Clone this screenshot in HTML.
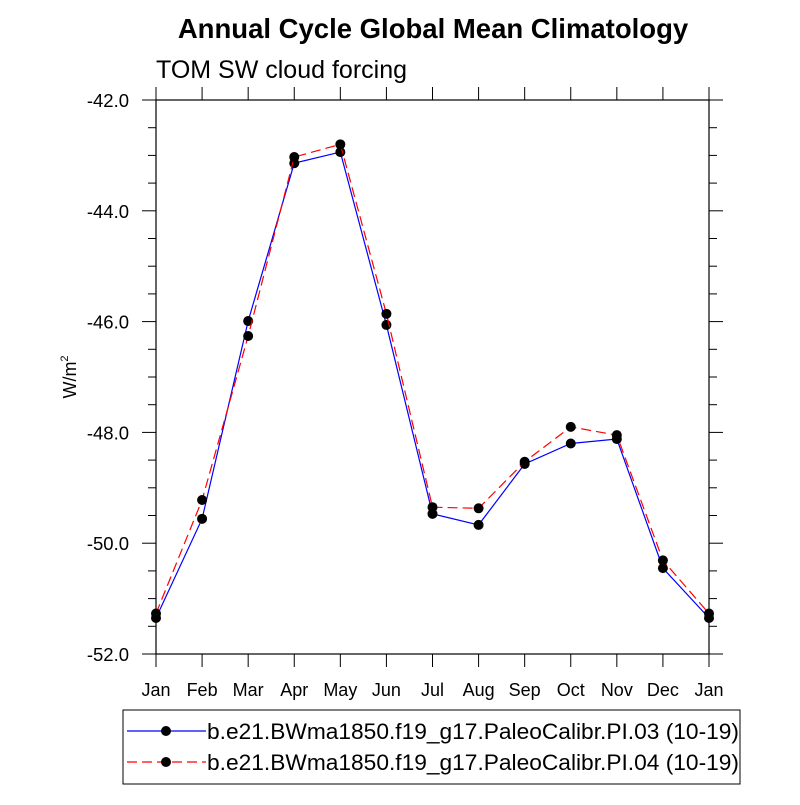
<!DOCTYPE html>
<html><head><meta charset="utf-8"><style>
html,body{margin:0;padding:0;background:#fff;}
svg text{font-family:"Liberation Sans",Arial,sans-serif;}
</style></head><body>
<svg id="chart" width="800" height="800" xmlns="http://www.w3.org/2000/svg">
<text x="433" y="38" text-anchor="middle" font-size="27.5" font-weight="bold">Annual Cycle Global Mean Climatology</text>
<text x="156" y="78" font-size="25">TOM SW cloud forcing</text>
<text transform="translate(76,377) rotate(-90)" text-anchor="middle" font-size="18">W/m<tspan font-size="11" dy="-8">2</tspan></text>
<g id="axes"></g>
<g id="series"></g>
<g id="legend"></g>
</svg>
<script>
const months = ["Jan","Feb","Mar","Apr","May","Jun","Jul","Aug","Sep","Oct","Nov","Dec","Jan"];
const yTicks = [-42,-44,-46,-48,-50,-52];
const yTickLabels = ["-42.0","-44.0","-46.0","-48.0","-50.0","-52.0"];
const series1 = [-51.35,-49.56,-45.99,-43.14,-42.94,-46.06,-49.47,-49.67,-48.57,-48.20,-48.12,-50.45,-51.35];
const series2 = [-51.27,-49.22,-46.26,-43.03,-42.80,-45.86,-49.35,-49.37,-48.53,-47.90,-48.05,-50.31,-51.27];
const seriesNames = ["b.e21.BWma1850.f19_g17.PaleoCalibr.PI.03 (10-19)","b.e21.BWma1850.f19_g17.PaleoCalibr.PI.04 (10-19)"];

const X0=156,X1=709,Y0=100,Y1=654,YMAX=-42,YMIN=-52;
const NS="http://www.w3.org/2000/svg";
const xs=i=>X0+(X1-X0)*i/(months.length-1);
const ys=v=>Y0+(YMAX-v)/(YMAX-YMIN)*(Y1-Y0);
function mk(tag,attrs,parent){const e=document.createElementNS(NS,tag);for(const k in attrs)e.setAttribute(k,attrs[k]);parent.appendChild(e);return e;}
const axes=document.getElementById('axes');
const frame=mk('rect',{x:X0,y:Y0,width:X1-X0,height:Y1-Y0,fill:'none',stroke:'#000','stroke-width':1.2},axes);


for(let v=YMAX;v>=YMIN-0.001;v-=0.5){
  const major=Math.abs(v-Math.round(v))<0.01&&Math.round(v)%2===0;
  const L=major?14:8;const y=ys(v);
  mk('line',{x1:X0-L,y1:y,x2:X0,y2:y,stroke:'#000'},axes);
  mk('line',{x1:X1,y1:y,x2:X1+L,y2:y,stroke:'#000'},axes);
}
yTicks.forEach((v,i)=>{
  const t=mk('text',{x:X0-27,y:ys(v)+7,'text-anchor':'end','font-size':18.5},axes);
  t.textContent=yTickLabels[i];
  
  
});
months.forEach((m,i)=>{
  const x=xs(i);
  mk('line',{x1:x,y1:Y1,x2:x,y2:Y1+13,stroke:'#000'},axes);
  mk('line',{x1:x,y1:Y0-13,x2:x,y2:Y0,stroke:'#000'},axes);
  const t=mk('text',{x:x,y:696,'text-anchor':'middle','font-size':18},axes);
  t.textContent=m;
  
  
});
const sg=document.getElementById('series');
function drawSeries(vals,color,dash,name){
  const g=mk('g',{},sg);
  
  
  const pts=vals.map((v,i)=>xs(i)+','+ys(v)).join(' ');
  const attrs={points:pts,fill:'none',stroke:color,'stroke-width':1.2};
  if(dash)attrs['stroke-dasharray']=dash;
  mk('polyline',attrs,g);
  vals.forEach((v,i)=>{
    const c=mk('circle',{cx:xs(i),cy:ys(v),r:5,fill:'#000'},g);
    
    
  });
}
drawSeries(series1,'#0000ff',null,'series-pi03');
drawSeries(series2,'#ff0000','10,5','series-pi04');
const lg=document.getElementById('legend');
const box=mk('rect',{x:123,y:710,width:617,height:74,fill:'none',stroke:'#000','stroke-width':1},lg);


[['#0000ff',null],['#ff0000','10,5']].forEach((s,i)=>{
  const y=731+i*31;
  const la={x1:127,y1:y,x2:206,y2:y,stroke:s[0],'stroke-width':1.2};
  if(s[1])la['stroke-dasharray']=s[1];
  mk('line',la,lg);
  mk('circle',{cx:166,cy:y,r:5,fill:'#000'},lg);
  const t=mk('text',{x:207,y:y+8,'font-size':22.5,textLength:532,lengthAdjust:'spacingAndGlyphs'},lg);
  t.textContent=seriesNames[i];
  
  
});
</script>
</body></html>
